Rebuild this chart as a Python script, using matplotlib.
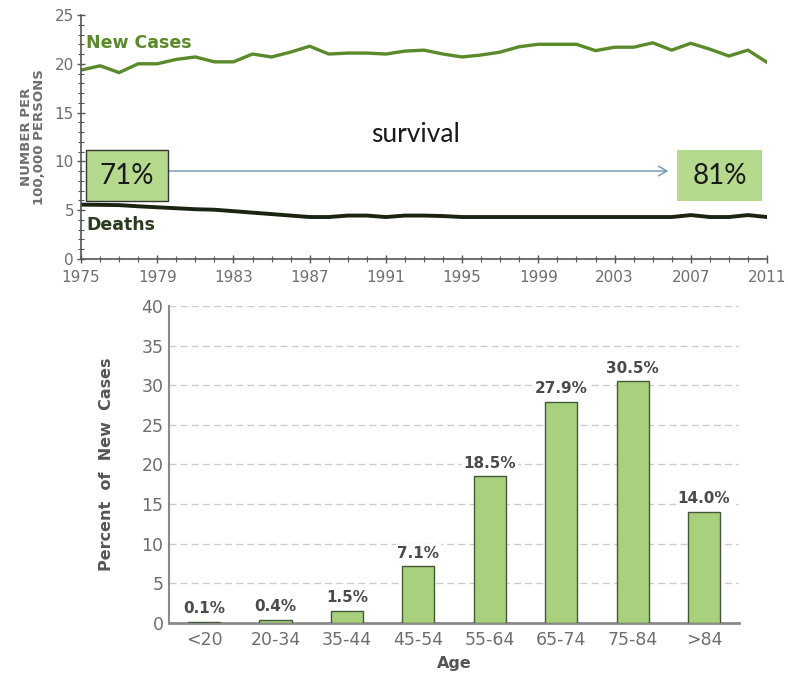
import matplotlib
matplotlib.use("Agg")
import matplotlib.pyplot as plt
from matplotlib.patches import Rectangle
from matplotlib.ticker import MultipleLocator

# ---- incidence / mortality trend (per 100,000 persons) ----
years = list(range(1975, 2012))
new_cases = [19.35, 19.8, 19.1, 20.0, 20.0, 20.45, 20.7, 20.2, 20.2, 21.0,
             20.7, 21.2, 21.8, 21.0, 21.1, 21.1, 21.0, 21.3, 21.4, 21.0,
             20.7, 20.9, 21.2, 21.75, 22.0, 22.0, 22.0, 21.35, 21.7, 21.7,
             22.15, 21.4, 22.1, 21.5, 20.8, 21.4, 20.15]
deaths = [5.57, 5.55, 5.52, 5.4, 5.3, 5.2, 5.1, 5.05, 4.9, 4.75,
          4.6, 4.45, 4.3, 4.3, 4.45, 4.45, 4.3, 4.45, 4.45, 4.4,
          4.3, 4.3, 4.3, 4.3, 4.3, 4.3, 4.3, 4.3, 4.3, 4.3,
          4.3, 4.3, 4.5, 4.3, 4.3, 4.5, 4.3]
year_ticks = [1975, 1979, 1983, 1987, 1991, 1995, 1999, 2003, 2007, 2011]
survival_start = "71%"
survival_end = "81%"

# ---- age distribution of new cases ----
age_groups = ["<20", "20-34", "35-44", "45-54", "55-64", "65-74", "75-84", ">84"]
age_percent = [0.1, 0.4, 1.5, 7.1, 18.5, 27.9, 30.5, 14.0]

GRAY = "#6e6e6e"
GREEN_LINE = "#5a8a2b"
DARK_LINE = "#1a2411"
BOX_GREEN = "#b5da8e"
BAR_GREEN = "#a9d07c"

fig = plt.figure(figsize=(7.88, 6.74), dpi=100)
fig.patch.set_facecolor("white")

# ================= top: trend chart =================
ax1 = fig.add_axes([81 / 788, 1 - 259 / 674, 686 / 788, 244 / 674])
ax1.plot(years, new_cases, color=GREEN_LINE, lw=2.4, solid_joinstyle="round")
ax1.plot(years, deaths, color=DARK_LINE, lw=2.8, solid_joinstyle="round")
ax1.set_xlim(1975, 2011)
ax1.set_ylim(0, 25)
ax1.set_xticks(year_ticks)
ax1.set_yticks(range(0, 26, 5))
ax1.xaxis.set_minor_locator(MultipleLocator(1))
ax1.yaxis.set_minor_locator(MultipleLocator(1))
for side in ("top", "right"):
    ax1.spines[side].set_visible(False)
for side in ("left", "bottom"):
    ax1.spines[side].set_color("#555555")
    ax1.spines[side].set_linewidth(1.2)
ax1.tick_params(which="major", direction="inout", length=6, width=1, color="#555555",
                labelsize=11, labelcolor=GRAY, pad=2)
ax1.tick_params(axis="x", which="major", pad=5)
ax1.tick_params(which="minor", direction="inout", length=4, width=0.8, color="#555555")
ax1.set_ylabel("NUMBER PER\n100,000 PERSONS", fontsize=9.5, fontweight="bold",
               color=GRAY, linespacing=1.05, labelpad=6)

ax1.text(0.0073, 0.885, "New Cases", transform=ax1.transAxes, fontsize=12.5,
         fontweight="bold", color=GREEN_LINE, va="center", ha="left")
ax1.text(0.0073, 0.139, "Deaths", transform=ax1.transAxes, fontsize=12.5,
         fontweight="bold", color="#2c3a1e", va="center", ha="left")

# survival boxes and arrow
box_y0, box_y1 = (259 - 201) / 244, (259 - 150) / 244
ax1.add_patch(Rectangle((0.0073, box_y0), 0.1195, box_y1 - box_y0, transform=ax1.transAxes,
                        facecolor=BOX_GREEN, edgecolor="#333333", lw=1.0, zorder=5))
ax1.add_patch(Rectangle((0.869, box_y0), 0.124, box_y1 - box_y0, transform=ax1.transAxes,
                        facecolor=BOX_GREEN, edgecolor="none", zorder=5))
mid_y = (box_y0 + box_y1) / 2
ax1.text(0.0073 + 0.1195 / 2, mid_y, survival_start, transform=ax1.transAxes,
         fontsize=20, family="Lato", color="#1a1a1a", ha="center", va="center", zorder=6)
ax1.text(0.869 + 0.062, mid_y, survival_end, transform=ax1.transAxes,
         fontsize=20, family="Lato", color="#1a1a1a", ha="center", va="center", zorder=6)
ax1.annotate("", xy=(0.856, (259 - 171) / 244), xytext=(0.127, (259 - 171) / 244),
             xycoords="axes fraction", textcoords="axes fraction",
             arrowprops=dict(arrowstyle="->,head_length=0.6,head_width=0.35",
                             color="#6f93b5", lw=1.0, shrinkA=0, shrinkB=0))
ax1.text(0.487, 0.512, "survival", transform=ax1.transAxes, fontsize=19,
         family="Lato", color="#1a1a1a", ha="center", va="center")

# ================= bottom: age distribution =================
ax2 = fig.add_axes([169 / 788, 1 - 622.7 / 674, 570 / 788, 316.7 / 674])
xpos = list(range(len(age_groups)))
ax2.bar(xpos, age_percent, width=0.45, color=BAR_GREEN, edgecolor="#46583a",
        linewidth=1.0, zorder=3)
ax2.set_xlim(-0.49, len(age_groups) - 0.51)
ax2.set_ylim(0, 40)
ax2.set_yticks(range(0, 41, 5))
ax2.set_xticks(xpos)
ax2.set_xticklabels(age_groups)
ax2.yaxis.grid(True, linestyle=(0, (5, 3)), color="#cccccc", lw=1.0, zorder=0)
ax2.set_axisbelow(True)
for side in ("top", "right"):
    ax2.spines[side].set_visible(False)
ax2.spines["left"].set_color("#8a8a8a")
ax2.spines["left"].set_linewidth(1.5)
ax2.spines["bottom"].set_color("#8a8a8a")
ax2.spines["bottom"].set_linewidth(2.0)
ax2.tick_params(axis="both", length=0, labelsize=12.5, labelcolor=GRAY, pad=6)
ax2.tick_params(axis="y", pad=4)
for xi, v in zip(xpos, age_percent):
    ax2.text(xi, v + 0.7, f"{v:.1f}%", ha="center", va="bottom", fontsize=11,
             fontweight="bold", color="#4a4a4a", zorder=4,
             bbox=dict(boxstyle="square,pad=0.1", facecolor="white", edgecolor="none"))
ax2.set_ylabel("Percent  of  New  Cases", fontsize=11.5, fontweight="bold",
               color="#555555", labelpad=20)
ax2.set_xlabel("Age", fontsize=11.5, fontweight="bold", color="#555555", labelpad=5)

fig.savefig("out.png", dpi=100, facecolor="white")
